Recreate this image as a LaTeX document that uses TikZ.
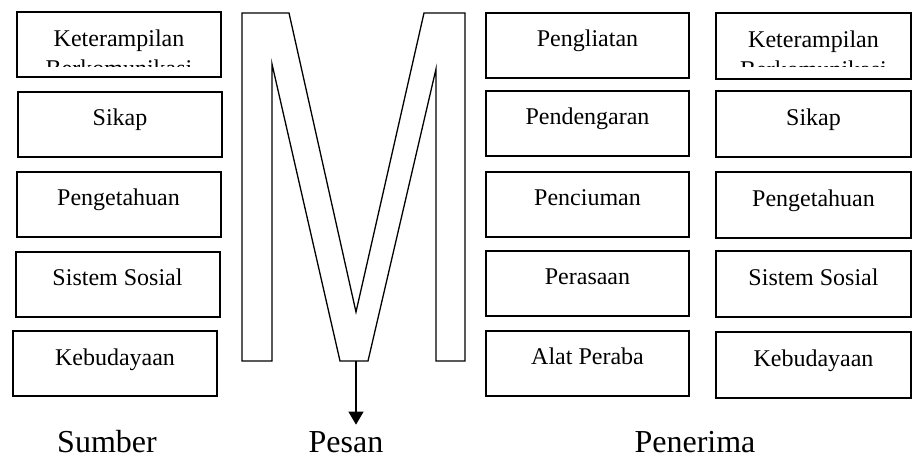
\documentclass[tikz,border=0pt]{standalone}
\usepackage{fontspec}
\setmainfont{Liberation Serif}
\usetikzlibrary{arrows.meta}

\tikzset{
  kotak/.style={draw, line width=1pt, minimum height=32.5pt, inner sep=0pt},
  isi/.style={anchor=base, inner sep=0pt, align=center, font=\fontsize{12}{15}\selectfont},
  judul/.style={anchor=base, inner sep=0pt, font=\fontsize{16}{19}\selectfont}
}

\begin{document}
\begin{tikzpicture}[x=0.5pt, y=-0.5pt]
    \useasboundingbox (0,0) rectangle (912,458);

    % Kolom sumber
    \node[kotak, minimum width=102pt] (s1) at (119,44.5) {};
    \foreach \n/\x/\y/\teks in {2/120/124.5/Sikap, 3/118.5/204.5/Pengetahuan,
                                4/117.5/284.5/Sistem Sosial, 5/115/364/Kebudayaan}
    {
        \node[kotak, minimum width=102pt] (s\n) at (\x,\y) {};
        \node[isi] (ts\n) at (\x,\y+1.5) {\teks};
    }
    \begin{scope}
        \clip (17,12) rectangle (221,67);
        \node[isi, anchor=north] (ts1) at (119,29.5) {Keterampilan\\Berkomunikasi};
    \end{scope}

    % Kolom indera
    \foreach \n/\y/\teks in {1/45.5/Pengliatan, 2/124/Pendengaran, 3/204.5/Penciuman,
                             4/284/Perasaan, 5/363.5/Alat Peraba}
    {
        \node[kotak, minimum width=101.5pt] (i\n) at (587.5,\y) {};
        \node[isi] (ti\n) at (587.5,\y+1) {\teks};
    }

    % Kolom penerima
    \node[kotak, minimum width=97.5pt, minimum height=33pt] (p1) at (813.5,46) {};
    \foreach \n/\y/\teks in {2/124/Sikap, 3/205/Pengetahuan,
                             4/284.5/Sistem Sosial, 5/365/Kebudayaan}
    {
        \node[kotak, minimum width=97.5pt, minimum height=33pt] (p\n) at (813.5,\y) {};
        \node[isi] (tp\n) at (813.5,\y+1.5) {\teks};
    }
    \begin{scope}
        \clip (716,13) rectangle (911,67);
        \node[isi, anchor=north] (tp1) at (813.5,30.5) {Keterampilan\\Berkomunikasi};
    \end{scope}

    % Huruf M
    \draw[line width=0.65pt, line join=miter]
        (242,13) -- (289,13) -- (356,312) -- (424,13) -- (465,13) -- (465,361)
        -- (436,361) -- (436,69) -- (368,361) -- (340,361) -- (272,64)
        -- (272,361) -- (242,361) -- cycle;
    \coordinate (mbawah) at (356,361);

    % Label
    \node[judul] (sumber) at (107,453) {Sumber};
    \node[judul] (pesan) at (346,453) {Pesan};
    \node[judul] (penerima) at (695,453) {Penerima};

    \draw[line width=0.6pt, -{Triangle[length=6.5pt, width=7.5pt]}, shorten >=3.5pt]
        (mbawah) -- (mbawah |- pesan.north);
\end{tikzpicture}
\end{document}
